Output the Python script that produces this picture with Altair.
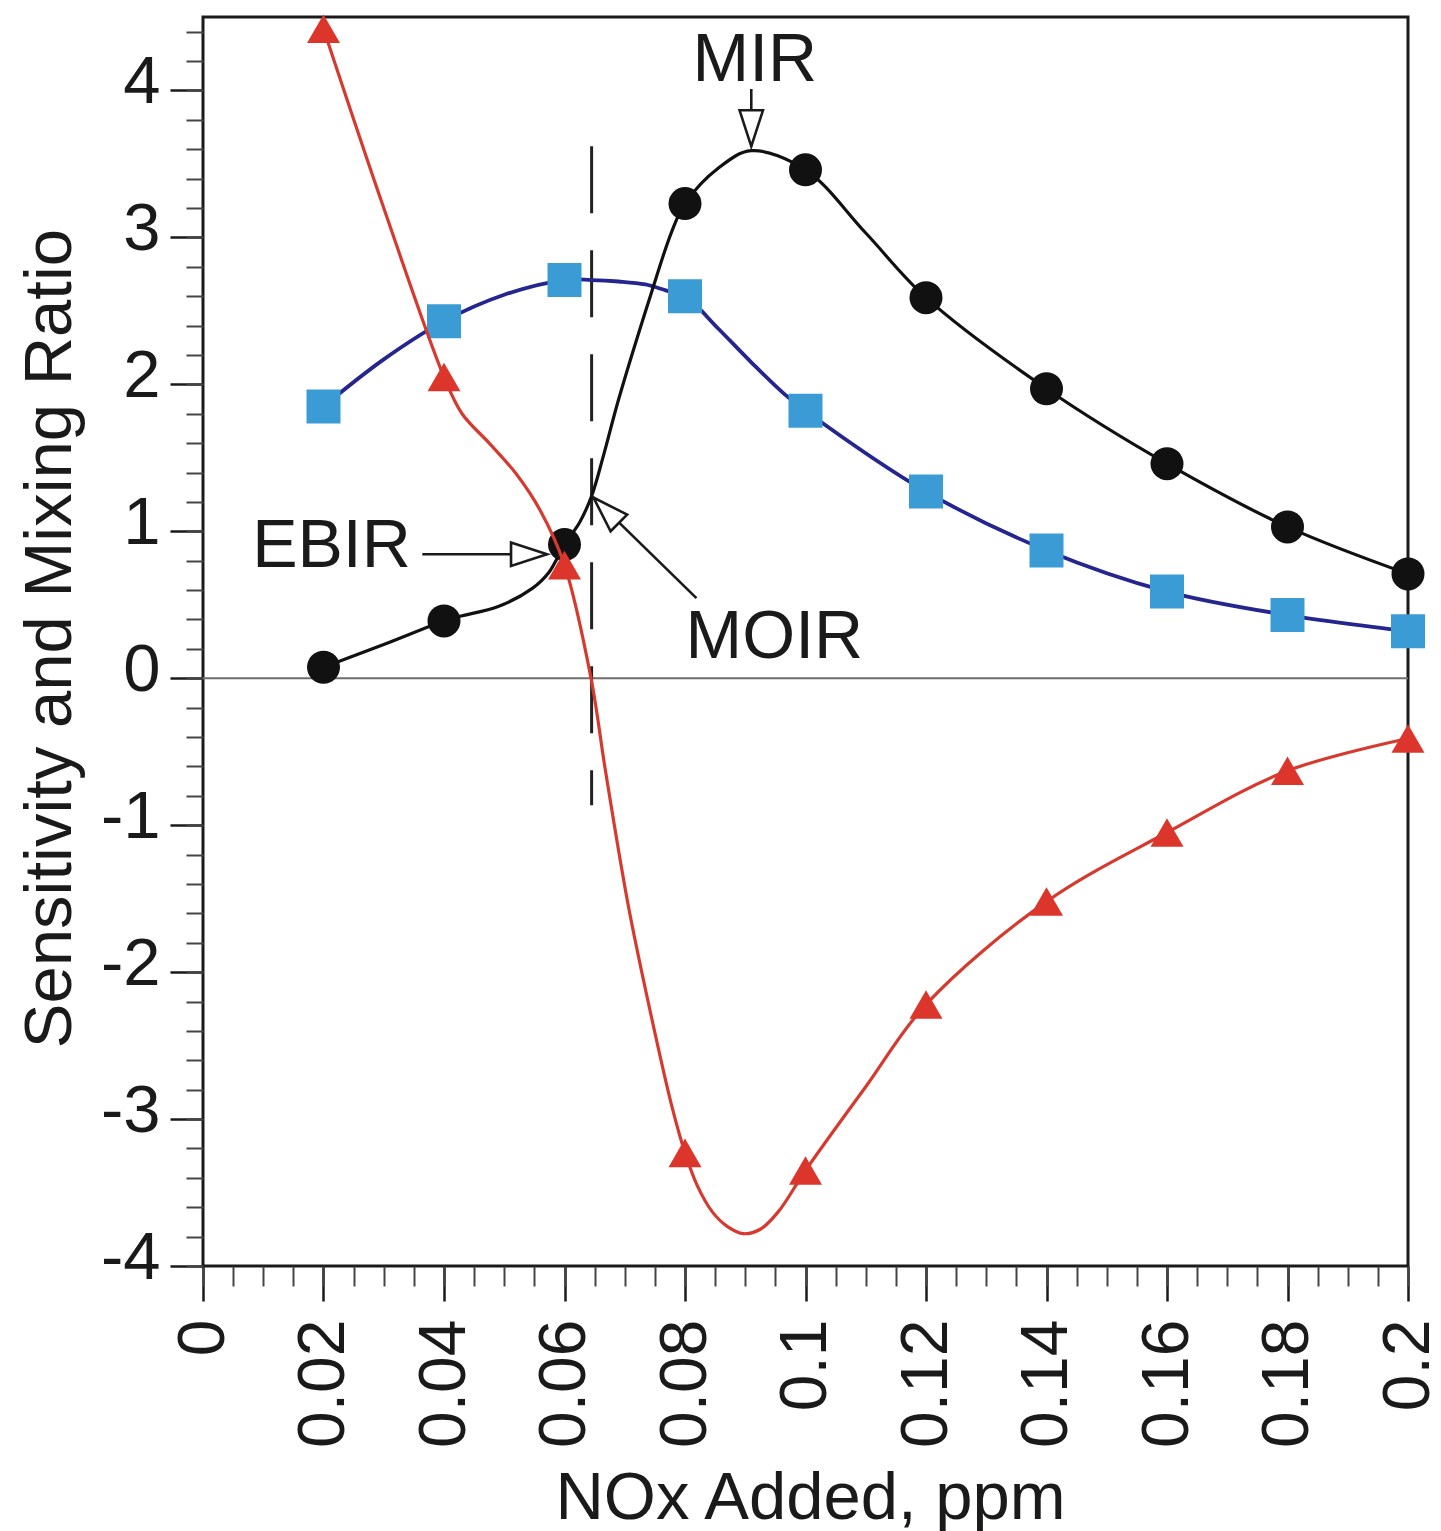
import altair as alt
import pandas as pd

FONT = "Liberation Sans"
INK = "#1a1a1a"

# ---- data ----
x_marks = [0.02, 0.04, 0.06, 0.08, 0.10, 0.12, 0.14, 0.16, 0.18, 0.20]
mir_marks = [0.075, 0.39, 0.91, 3.23, 3.46, 2.59, 1.97, 1.46, 1.03, 0.71]
mix_marks = [1.85, 2.43, 2.71, 2.60, 1.82, 1.27, 0.87, 0.59, 0.43, 0.32]
sens_marks = [4.42, 2.05, 0.77, -3.23, -3.35, -2.22, -1.52, -1.05, -0.63, -0.41]

# points
mir_curve_x = [0.02, 0.03, 0.04, 0.0425, 0.0491, 0.0546, 0.0574, 0.06, 0.0625, 0.0645,
               0.0665, 0.069, 0.0744, 0.0778, 0.08, 0.0855, 0.091, 0.10, 0.11, 0.12,
               0.14, 0.16, 0.18, 0.20]
mir_curve_y = [0.075, 0.23, 0.39, 0.42, 0.49, 0.61, 0.72, 0.91, 1.06, 1.24,
               1.52, 1.90, 2.62, 3.04, 3.23, 3.47, 3.59, 3.46, 3.03, 2.59,
               1.97, 1.46, 1.03, 0.71]

mix_curve_x = [0.02, 0.03, 0.04, 0.05, 0.06, 0.0645, 0.069, 0.0734, 0.0768, 0.08,
               0.0855, 0.091, 0.0966, 0.10, 0.12, 0.14, 0.16, 0.18, 0.20]
mix_curve_y = [1.85, 2.17, 2.43, 2.61, 2.71, 2.71, 2.70, 2.68, 2.64, 2.60,
               2.38, 2.15, 1.93, 1.82, 1.27, 0.87, 0.59, 0.43, 0.32]

sens_curve_x = [0.02, 0.03, 0.04, 0.043, 0.0475, 0.052, 0.056, 0.06, 0.0644, 0.0668,
                0.0706, 0.0744, 0.0778, 0.08, 0.082, 0.0845, 0.087, 0.0897, 0.0925,
                0.0955, 0.10, 0.11, 0.12, 0.14, 0.16, 0.18, 0.20]
sens_curve_y = [4.42, 3.20, 2.05, 1.80, 1.60, 1.39, 1.14, 0.77, 0.00, -0.63,
                -1.55, -2.30, -2.91, -3.23, -3.45, -3.63, -3.73, -3.78, -3.75,
                -3.63, -3.35, -2.78, -2.22, -1.52, -1.05, -0.63, -0.41]

x_ticks = [0, 0.02, 0.04, 0.06, 0.08, 0.1, 0.12, 0.14, 0.16, 0.18, 0.2]
y_ticks = [-4, -3, -2, -1, 0, 1, 2, 3, 4]
x_minor = [round(i * 0.005, 3) for i in range(41)]
y_minor = [round(-4 + i * 0.2, 1) for i in range(43)]

# annotations (data units)
moir_x = 0.0645
dash_top, dash_bot = 3.62, -0.865
arrows = pd.DataFrame({
    "x": [0.091, 0.0364, 0.0819],
    "y": [4.01, 0.844, 0.545],
    "xt": [0.091, 0.0571, 0.0648],
    "yt": [3.62, 0.844, 1.23],
    "ang": [180, 90, 315],
})
labels_c = pd.DataFrame({"x": [0.0916], "y": [4.064], "t": ["MIR"]})
labels_r = pd.DataFrame({"x": [0.0345], "y": [0.756], "t": ["EBIR"]})
labels_l = pd.DataFrame({"x": [0.0801], "y": [0.136], "t": ["MOIR"]})

# ---- chart ----
xs = alt.Scale(domain=[0, 0.2], nice=False, zero=False)
ys = alt.Scale(domain=[-4, 4.5], nice=False, zero=False)

marks_df = pd.DataFrame({"x": x_marks, "mir": mir_marks, "mix": mix_marks, "sens": sens_marks})
mir_df = pd.DataFrame({"x": mir_curve_x, "y": mir_curve_y})
mix_df = pd.DataFrame({"x": mix_curve_x, "y": mix_curve_y})
sens_df = pd.DataFrame({"x": sens_curve_x, "y": sens_curve_y})

x_major = alt.Axis(
    values=x_ticks, labelExpr="'' + datum.value", orient="bottom",
    tickSize=35, tickWidth=2.5, tickColor=INK, domain=False, grid=False,
    labelAngle=270, labelAlign="right", labelBaseline="middle",
    labelFontSize=66, labelFont=FONT, labelColor=INK, labelPadding=18,
    labelFlush=False, labelOverlap=False,
    title="NOx Added, ppm", titleFontSize=67, titleFont=FONT, titleFontWeight="normal",
    titleColor=INK, titleX=607, titleY=252, titleAlign="center",
    titleBaseline="alphabetic", titleAngle=0,
)
y_major = alt.Axis(
    values=y_ticks, labelExpr="'' + datum.value", orient="left",
    tickSize=33, tickWidth=2.5, tickColor=INK, domain=False, grid=False,
    labelAlign="right", labelBaseline="middle", labelOffset=-8,
    labelFontSize=67, labelFont=FONT, labelColor=INK, labelPadding=10,
    labelFlush=False, labelOverlap=False,
    title="Sensitivity and Mixing Ratio", titleFontSize=67, titleFont=FONT,
    titleFontWeight="normal", titleColor=INK, titleX=-133, titleY=621,
    titleAlign="center", titleBaseline="alphabetic", titleAngle=270,
)
x_min_ax = alt.Axis(values=x_minor, orient="bottom", tickSize=20, tickWidth=2,
                    tickColor="#444", labels=False, domain=False, grid=False, title=None)
y_min_ax = alt.Axis(values=y_minor, orient="left", tickSize=17, tickWidth=2,
                    tickColor="#444", labels=False, domain=False, grid=False, title=None)

base = alt.Chart(marks_df)
axis_major = base.mark_point(opacity=0).encode(
    x=alt.X("x:Q", scale=xs, axis=x_major), y=alt.Y("mix:Q", scale=ys, axis=y_major))
axis_minor = base.mark_point(opacity=0).encode(
    x=alt.X("x:Q", scale=xs, axis=x_min_ax), y=alt.Y("mix:Q", scale=ys, axis=y_min_ax))

zero_df = pd.DataFrame({"x": [0.0], "x2": [0.2], "y": [0.0]})
zero = alt.Chart(zero_df).mark_rule(color="#6e6e6e", strokeWidth=2.2).encode(
    x=alt.X("x:Q", scale=xs, axis=None), x2="x2:Q", y=alt.Y("y:Q", scale=ys, axis=None))

dash_df = pd.DataFrame({"x": [moir_x], "y": [dash_top], "y2": [dash_bot]})
dashed = alt.Chart(dash_df).mark_rule(color="#222", strokeWidth=3, strokeDash=[67, 37]).encode(
    x=alt.X("x:Q", scale=xs, axis=None), y=alt.Y("y:Q", scale=ys, axis=None), y2="y2:Q")

def curve(df, color, width):
    return alt.Chart(df).mark_line(color=color, strokeWidth=width, interpolate="catmull-rom").encode(
        x=alt.X("x:Q", scale=xs, axis=None), y=alt.Y("y:Q", scale=ys, axis=None))

def pts(field, shape, size, color):
    return base.mark_point(shape=shape, size=size, filled=True, color=color, opacity=1).encode(
        x=alt.X("x:Q", scale=xs, axis=None), y=alt.Y(f"{field}:Q", scale=ys, axis=None))

mix_line = curve(mix_df, "#25258f", 3.8)
mix_pts = pts("mix", "square", 1156, "#3b9bd5")
mir_line = curve(mir_df, "#111111", 3.2)
mir_pts = pts("mir", "circle", 1089, "#111111")
sens_line = curve(sens_df, "#d63a2e", 3.2)
sens_pts = pts("sens", "triangle-up", 1089, "#dc352c")

shafts = alt.Chart(arrows).mark_rule(color=INK, strokeWidth=2.6).encode(
    x=alt.X("x:Q", scale=xs, axis=None), y=alt.Y("y:Q", scale=ys, axis=None),
    x2="xt:Q", y2="yt:Q")
heads = alt.Chart(arrows).mark_point(
    shape="M0,0L-0.65,2L0.65,2Z", size=1296, filled=True, fill="white",
    stroke=INK, strokeWidth=2.6, opacity=1).encode(
    x=alt.X("xt:Q", scale=xs, axis=None), y=alt.Y("yt:Q", scale=ys, axis=None),
    angle=alt.Angle("ang:Q", scale=None))

def txt(df, align):
    return alt.Chart(df).mark_text(font=FONT, fontSize=68, color=INK, align=align,
                                   baseline="alphabetic").encode(
        x=alt.X("x:Q", scale=xs, axis=None), y=alt.Y("y:Q", scale=ys, axis=None), text="t:N")

chart = alt.layer(
    axis_major, axis_minor, zero, dashed,
    mix_line, mix_pts, mir_line, mir_pts, sens_line, sens_pts,
    shafts, heads, txt(labels_c, "center"), txt(labels_r, "right"), txt(labels_l, "left"),
).resolve_axis(x="independent", y="independent").properties(
    width=1205, height=1249,
    padding={"left": 203, "top": 17, "right": 33, "bottom": 265},
    autosize=alt.AutoSizeParams(type="none"),
    background="white",
).configure_view(stroke=INK, strokeWidth=3)

chart.save("out.html", embed_options={"renderer": "svg", "actions": False})
